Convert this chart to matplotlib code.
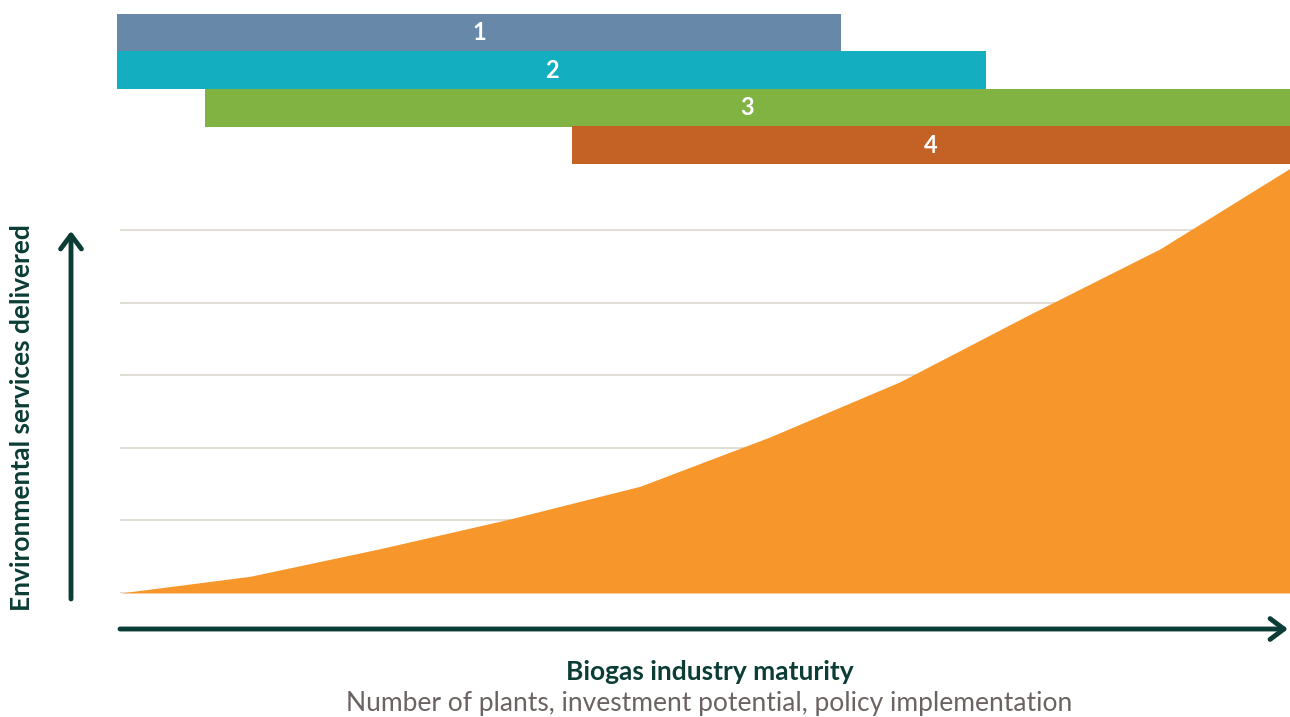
import matplotlib as mpl
import matplotlib.pyplot as plt

mpl.rcParams['font.family'] = ['Lato', 'DejaVu Sans']

# maturity steps and environmental services delivered (grid units)
steps = [0, 1, 2, 3, 4, 5, 6, 7, 8, 9]
services = [0.0, 0.23, 0.61, 1.02, 1.47, 2.15, 2.91, 3.84, 4.74, 5.85]

# phase bars: label, start, end, colour
phase_labels = ['1', '2', '3', '4']
phase_start = [-0.02, -0.02, 0.65, 3.48]
phase_end = [5.55, 6.66, 9.0, 9.0]
phase_colors = ['#6888aa', '#13aebf', '#80b342', '#c46125']

grid_levels = [0, 1, 2, 3, 4, 5]

dark = '#0b3d36'
orange = '#f7962a'

fig = plt.figure(figsize=(12.9, 7.17), dpi=100)
ax = fig.add_axes([120 / 1290, 124 / 717, 1170 / 1290, 579 / 717])
ax.set_xlim(0, 9)
ax.set_ylim(0, 579 / 72.6)
ax.axis('off')

for g in grid_levels:
    ax.axhline(g, color='#dcd7cc', linewidth=1.2, zorder=1)

ax.fill_between(steps, 0, services, color=orange, linewidth=0, zorder=2)

bar_h = 37.5 / 72.6
top = 579 / 72.6
for i, lab in enumerate(phase_labels):
    y0 = top - (i + 1) * bar_h
    ax.barh(y0 + bar_h / 2, phase_end[i] - phase_start[i], left=phase_start[i],
            height=bar_h, color=phase_colors[i], linewidth=0, zorder=3, clip_on=False)
    ax.text((phase_start[i] + phase_end[i]) / 2, y0 + bar_h / 2, lab, color='white',
            fontsize=17, fontweight='bold', ha='center', va='center', zorder=4)

# axis arrows (figure coordinates)
arrow = dict(arrowstyle='->,head_length=1.0,head_width=0.75', color=dark, lw=3.5,
             shrinkA=0, shrinkB=0)
ax.annotate('', xy=(71 / 1290, 1 - 231 / 717), xytext=(71 / 1290, 1 - 599 / 717),
            xycoords='figure fraction', textcoords='figure fraction', arrowprops=arrow)
ax.annotate('', xy=(1288 / 1290, 1 - 629 / 717), xytext=(120 / 1290, 1 - 629 / 717),
            xycoords='figure fraction', textcoords='figure fraction', arrowprops=arrow)

fig.text(22 / 1290, 1 - 418 / 717, 'Environmental services delivered', rotation=90,
         color=dark, fontsize=19, fontweight='bold', ha='center', va='center')
fig.text(710 / 1290, 1 - 672 / 717, 'Biogas industry maturity', color=dark,
         fontsize=19, fontweight='bold', ha='center', va='center')
fig.text(709 / 1290, 1 - 704 / 717,
         'Number of plants, investment potential, policy implementation',
         color='#6b6361', fontsize=19, ha='center', va='center')

fig.savefig('out.png', dpi=100)
